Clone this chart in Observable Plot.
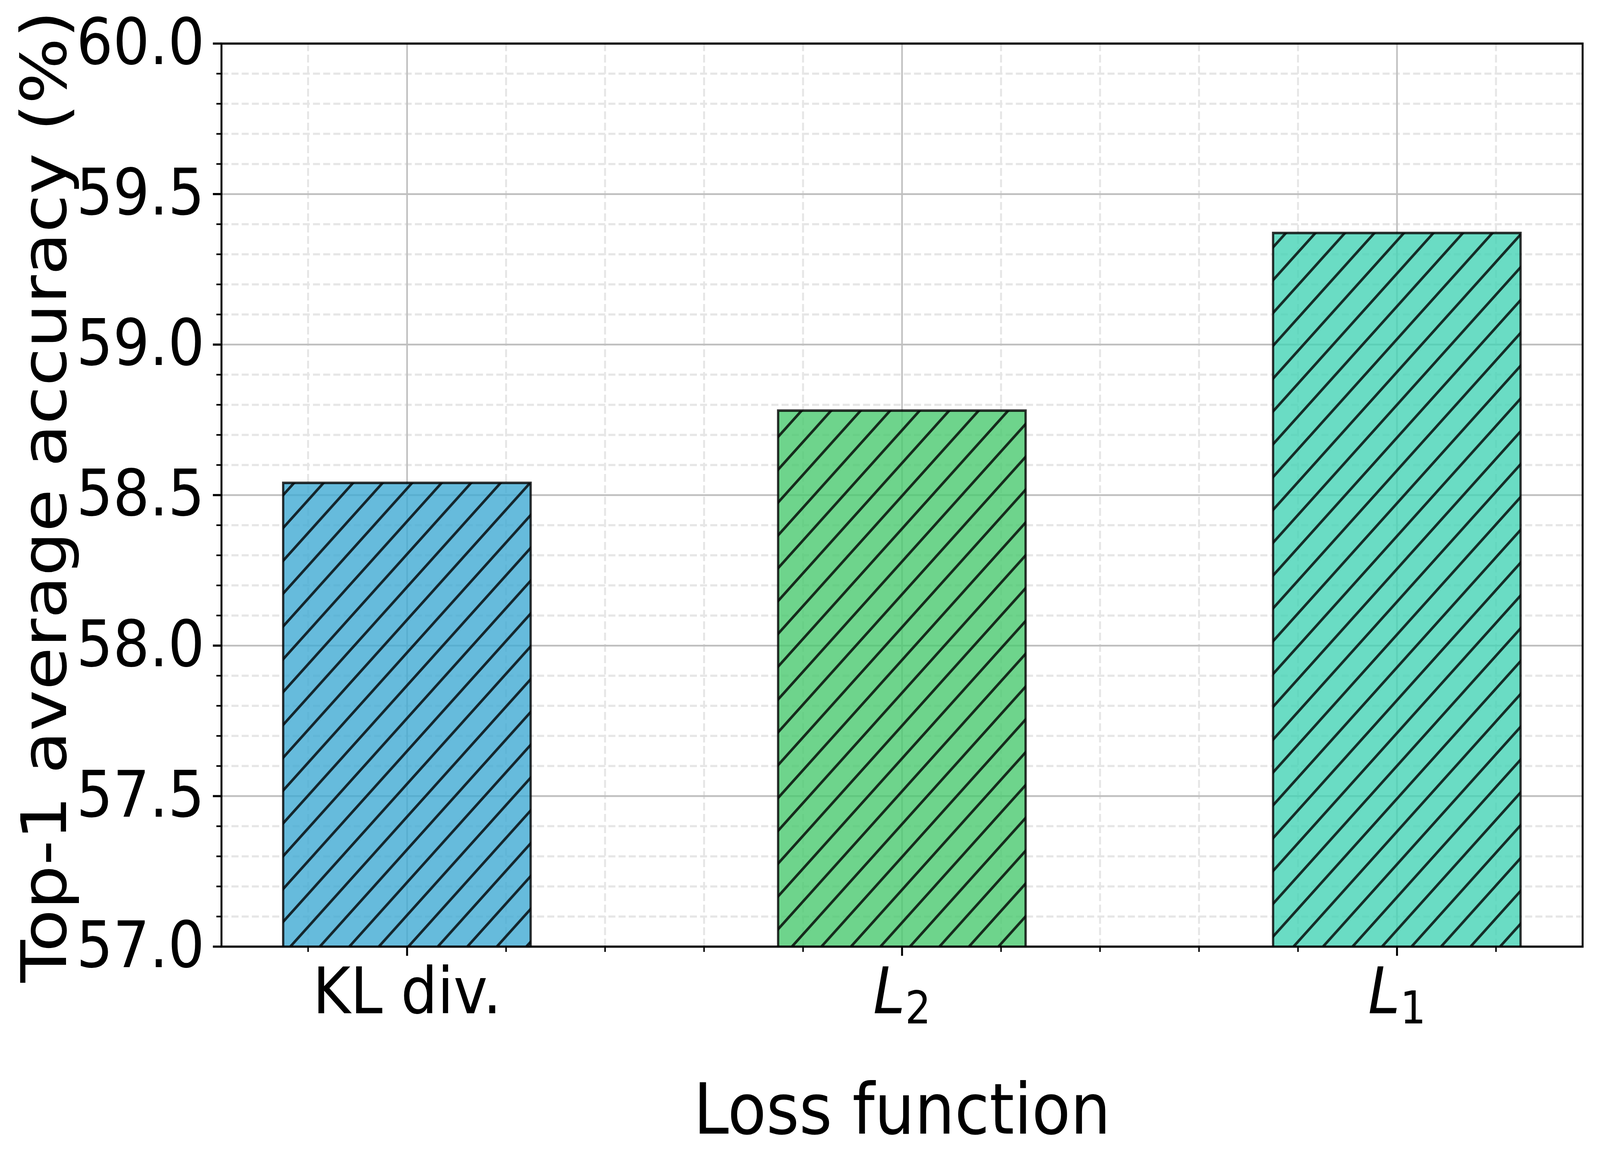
<!DOCTYPE html>
<html><head><meta charset="utf-8">
<script src="https://cdn.jsdelivr.net/npm/d3@7"></script>
<script src="https://cdn.jsdelivr.net/npm/@observablehq/plot@0.6"></script>
<style>html,body{margin:0;padding:0;background:#fff;overflow:hidden;} #chart{width:100vw;height:100vh;} svg{display:block;}</style>
</head><body><div id="chart"></div>
<script>
const categories = ["KL div.", "L2", "L1"];
const labelMain = ["KL div.", "L", "L"];
const labelSub = ["", "2", "1"];
const labelItalic = [false, true, true];
const accuracy = [58.54, 58.78, 59.37];
const barColors = ["#40aad3", "#4ac96f", "#45d3b5"];
const yTicks = [57.0, 57.5, 58.0, 58.5, 59.0, 59.5, 60.0];
const yTickLabels = ["57.0", "57.5", "58.0", "58.5", "59.0", "59.5", "60.0"];
const yMinorTicks = [57.1, 57.2, 57.3, 57.4, 57.6, 57.7, 57.8, 57.9, 58.1, 58.2, 58.3, 58.4,
  58.6, 58.7, 58.8, 58.9, 59.1, 59.2, 59.3, 59.4, 59.6, 59.7, 59.8, 59.9];
const xTicks = [0, 1, 2];
const xMinorTicks = [-0.2, 0.2, 0.4, 0.6, 0.8, 1.2, 1.4, 1.6, 1.8, 2.2];
const xLabel = "Loss function";
const yLabel = "Top-1 average accuracy (%)";

const bars = categories.map((c, i) => ({i, c, v: accuracy[i], color: barColors[i],
  main: labelMain[i], sub: labelSub[i], italic: labelItalic[i]}));
const half = 0.25;
const minorStyle = {stroke: "#e6e6e6", strokeWidth: 5.5, strokeDasharray: "20,9"};
const majorStyle = {stroke: "#bfbfbf", strokeWidth: 4.5};

const svg = Plot.plot({
  width: 4555, height: 2989,
  marginLeft: 630, marginRight: 50, marginTop: 111, marginBottom: 567,
  style: {fontFamily: "DejaVu Sans", background: "white", color: "black"},
  x: {type: "linear", domain: [-0.375, 2.375], axis: null},
  y: {type: "linear", domain: [57, 60], axis: null},
  color: {type: "identity"},
  marks: [
    Plot.ruleY(yMinorTicks, {...minorStyle}),
    Plot.ruleX(xMinorTicks, {y1: 57, y2: 60, ...minorStyle}),
    Plot.ruleY(yTicks.slice(1, -1), {...majorStyle}),
    Plot.ruleX(xTicks, {y1: 57, y2: 60, ...majorStyle}),
    Plot.rect(bars, {x1: d => d.i - half, x2: d => d.i + half, y1: 0, y2: "v", fill: "color", fillOpacity: 0.8, clip: true}),
    Plot.rect(bars, {x1: d => d.i - half, x2: d => d.i + half, y1: 0, y2: "v", fill: "url(#hatch)", clip: true}),
    Plot.rect(bars, {x1: d => d.i - half, x2: d => d.i + half, y1: 0, y2: "v", fill: "none", stroke: "black", strokeOpacity: 0.8, strokeWidth: 6.5, clip: true}),
    Plot.frame({stroke: "black", strokeWidth: 5.5}),
    Plot.axisY(yTicks, {anchor: "left", tickSize: 24, tickPadding: 24, strokeWidth: 5.5, fontSize: 164,
      tickFormat: d => yTickLabels[yTicks.indexOf(d)], label: null}),
    Plot.axisY(yMinorTicks, {anchor: "left", tickSize: 14, strokeWidth: 4.2, fill: "none", label: null}),
    Plot.axisX(xTicks, {anchor: "bottom", tickSize: 24, strokeWidth: 5.5, fill: "none", label: null}),
    Plot.axisX(xMinorTicks, {anchor: "bottom", tickSize: 14, strokeWidth: 4.2, fill: "none", label: null}),
    Plot.text(bars.filter(d => !d.italic), {x: "i", text: "main", frameAnchor: "bottom", dy: 170, lineAnchor: "bottom", textAnchor: "middle", fontSize: 164, fill: "black"}),
    Plot.text(bars.filter(d => d.italic), {x: "i", text: "main", frameAnchor: "bottom", dy: 170, dx: 9, lineAnchor: "bottom", textAnchor: "end", fontStyle: "italic", fontSize: 164, fill: "black"}),
    Plot.text(bars.filter(d => d.italic), {x: "i", text: "sub", frameAnchor: "bottom", dy: 196, dx: 9, lineAnchor: "bottom", textAnchor: "start", fontSize: 115, fill: "black"}),
    Plot.text([xLabel], {text: d => d, frameAnchor: "bottom", dy: 478, lineAnchor: "bottom", textAnchor: "middle", fontSize: 180, fill: "black"}),
    Plot.text([yLabel], {text: d => d, frameAnchor: "left", dx: -443, dy: 4, rotate: -90, lineAnchor: "bottom", textAnchor: "middle", fontSize: 178, fill: "black"})
  ]
});

const ns = "http://www.w3.org/2000/svg";
const defs = document.createElementNS(ns, "defs");
const pat = document.createElementNS(ns, "pattern");
pat.setAttribute("id", "hatch");
pat.setAttribute("patternUnits", "userSpaceOnUse");
pat.setAttribute("width", "84");
pat.setAttribute("height", "84");
pat.setAttribute("x", "57");
pat.setAttribute("y", "0");
const p = document.createElementNS(ns, "path");
p.setAttribute("d", "M0,84 L84,0 M-21,21 L21,-21 M63,105 L105,63");
p.setAttribute("stroke", "black");
p.setAttribute("stroke-opacity", "0.8");
p.setAttribute("stroke-width", "7");
p.setAttribute("fill", "none");
pat.appendChild(p);
defs.appendChild(pat);
svg.insertBefore(defs, svg.firstChild);
svg.setAttribute("preserveAspectRatio", "none");
svg.style.maxWidth = "none";
svg.style.width = "100%";
svg.style.height = "100%";
document.getElementById("chart").appendChild(svg);
</script>
</body></html>
